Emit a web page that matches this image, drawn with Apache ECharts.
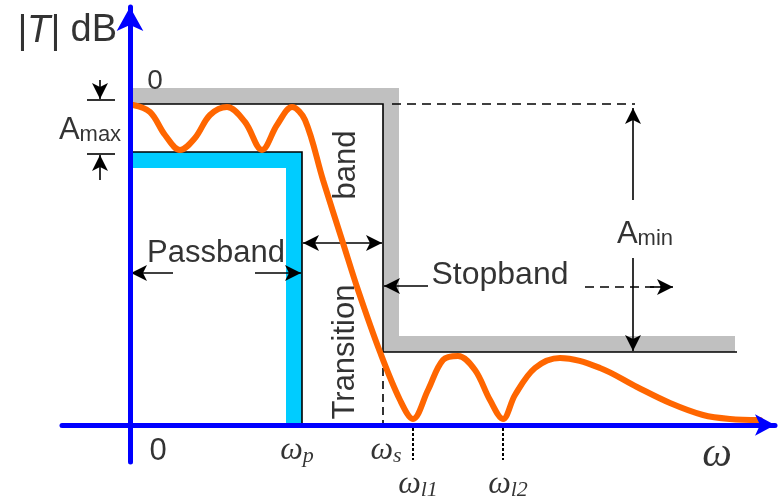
<!DOCTYPE html>
<html>
<head>
<meta charset="utf-8">
<script src="https://cdn.jsdelivr.net/npm/echarts@6/dist/echarts.min.js"></script>
<style>
  html, body { margin: 0; padding: 0; background: #fff; }
  #chart { width: 778px; height: 498px; }
</style>
</head>
<body>
<div id="chart"></div>
<script>
  // units: one unit per pixel, origin where the two axes cross
  const wp = 172;            // passband edge
  const ws = 253;            // stopband edge
  const wl = [283, 373];     // loss poles
  const level0 = 321;        // 0 dB
  const levelAmax = 273;     // -Amax
  const levelAmin = 73;      // -Amin

  // filter response
  const respX = [3, 20, 35, 50, 65, 80, 97, 115, 132, 147, 162, 175, 193, 213, 228, 250, 270, 283, 298, 313, 328, 345, 360, 373, 385, 405, 430, 470, 507, 540, 573, 600, 630];
  const respY = [320, 313, 290, 275, 287, 310, 318, 303, 275, 300, 318, 305, 245, 182, 135, 73, 25, 6, 35, 65, 69, 55, 25, 6, 30, 57, 67, 57, 38, 22, 10, 6, 5];

  const sans = '"Liberation Sans", Arial, sans-serif';
  const serif = '"Liberation Serif", "Times New Roman", serif';

  function seg(points, style, z) {
    return {
      type: 'line', data: points, symbol: 'none', silent: true, clip: false,
      lineStyle: Object.assign({ color: '#000', width: 1.6, join: 'miter' }, style),
      z: z || 3
    };
  }
  function arrow(from, to, both) {
    return [{ coord: from, symbol: both ? 'arrow' : 'none' }, { coord: to, symbol: 'arrow' }];
  }
  function lab(pos, text, size, extra) {
    return {
      value: pos,
      label: Object.assign({
        show: true, position: 'inside', formatter: text, color: '#000',
        fontFamily: sans, fontSize: size
      }, extra || {})
    };
  }

  const omegaRich = {
    w: { fontFamily: serif, fontStyle: 'italic', fontSize: 32, color: '#000', lineHeight: 34, verticalAlign: 'bottom' },
    s: { fontFamily: serif, fontStyle: 'italic', fontSize: 22, color: '#000', lineHeight: 20, verticalAlign: 'bottom' }
  };
  const subRich = {
    a: { fontSize: 31, lineHeight: 36, verticalAlign: 'bottom', fontFamily: sans, color: '#000' },
    s: { fontSize: 22, lineHeight: 22, verticalAlign: 'bottom', fontFamily: sans, color: '#000' }
  };

  let myChart = echarts.init(document.getElementById('chart'));
  myChart.setOption({
    animation: false,
    grid: { left: 62, right: 3, top: 7, bottom: 36 },
    xAxis: {
      type: 'value', min: -68, max: 645, z: 10,
      axisLine: { onZero: true, symbol: ['none', 'arrow'], symbolSize: [16, 20], lineStyle: { color: '#0000FF', width: 5 } },
      axisTick: { show: false }, axisLabel: { show: false }, splitLine: { show: false }
    },
    yAxis: {
      type: 'value', min: -37, max: 418, z: 10,
      axisLine: { onZero: true, symbol: ['none', 'arrow'], symbolSize: [20, 24], lineStyle: { color: '#0000FF', width: 5 } },
      axisTick: { show: false }, axisLabel: { show: false }, splitLine: { show: false }
    },
    series: [
      // grey stopband mask
      seg([[0, level0 + 8], [ws + 8, level0 + 8], [ws + 8, levelAmin + 8], [605, levelAmin + 8]], { color: '#C0C0C0', width: 16 }, 1),
      // cyan passband mask
      seg([[0, levelAmax - 8], [wp - 8, levelAmax - 8], [wp - 8, 0]], { color: '#00CCFF', width: 16 }, 1),
      seg([[0, level0], [ws, level0], [ws, levelAmin], [607, levelAmin]], {}),
      seg([[0, levelAmax], [wp, levelAmax], [wp, 0]], {}),
      seg([[262, level0], [505, level0]], { type: [9, 6] }),
      seg([[ws, 70], [ws, 0]], { type: [8, 5] }),
      seg([[wl[0], -3], [wl[0], -35]], { type: [3, 2], width: 2 }),
      seg([[wl[1], -3], [wl[1], -35]], { type: [3, 2], width: 2 }),
      seg([[-43, 325], [-15, 325]], {}),
      seg([[-43, 271], [-15, 271]], {}),
      seg([[455, 138], [543, 138]], { type: [9, 6] }),
      {
        type: 'line', data: respX.map((x, i) => [x, respY[i]]),
        smooth: 0.35, symbol: 'none', silent: true, clip: false, z: 5,
        lineStyle: { color: '#FF6600', width: 6, cap: 'round' }
      },
      {
        type: 'scatter', symbolSize: 0, clip: false, silent: true, z: 6,
        data: [
          lab([-63, 394], '{it||T|}{n| dB}', 38, { rich: { it: { fontStyle: 'italic', fontSize: 38, fontFamily: sans, color: '#000' }, n: { fontSize: 38, fontFamily: sans, color: '#000' } } }),
          lab([25, 344], '0', 28),
          lab([-40, 297], '{a|A}{s|max}', 31, { rich: subRich }),
          lab([86, 172], 'Passband', 31),
          lab([216, 260], 'band', 31, { rotate: 90 }),
          lab([215, 73], 'Transition', 31, { rotate: 90 }),
          lab([370, 150], 'Stopband', 32),
          lab([515, 193], '{a|A}{s|min}', 31, { rich: subRich }),
          lab([28, -26], '0', 31),
          lab([167, -25], '{w|ω}{s|p}', 32, { rich: omegaRich }),
          lab([256, -25], '{w|ω}{s|s}', 32, { rich: omegaRich }),
          lab([288, -59], '{w|ω}{s|l1}', 32, { rich: omegaRich }),
          lab([378, -59], '{w|ω}{s|l2}', 32, { rich: omegaRich }),
          lab([587, -30], 'ω', 42, { fontFamily: serif, fontStyle: 'italic' })
        ],
        markLine: {
          silent: true, symbol: ['none', 'arrow'], symbolSize: [12, 16],
          label: { show: false },
          lineStyle: { color: '#000', width: 1.6, type: 'solid' },
          data: [
            arrow([-30, 345], [-30, 326]),
            arrow([-30, 245], [-30, 270]),
            arrow([173, 182], [252, 182], true),
            arrow([43, 152], [1, 152]),
            arrow([125, 152], [171, 152]),
            arrow([298, 139], [254, 139]),
            arrow([520, 138], [543, 138]),
            arrow([503, 225], [503, 317]),
            arrow([503, 167], [503, 74])
          ]
        }
      }
    ]
  });
</script>
</body>
</html>
